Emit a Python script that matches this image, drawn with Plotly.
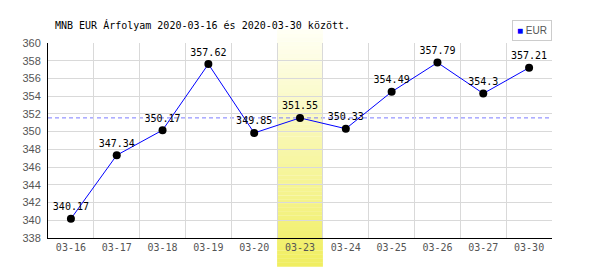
import plotly.graph_objects as go

dates = ["03-16", "03-17", "03-18", "03-19", "03-20", "03-23",
         "03-24", "03-25", "03-26", "03-27", "03-30"]
rates = [340.17, 347.34, 350.17, 357.62, 349.85, 351.55,
         350.33, 354.49, 357.79, 354.3, 357.21]
y_ticks = [338, 340, 342, 344, 346, 348, 350, 352, 354, 356, 358, 360]
highlight_date = "03-23"
series_name = "EUR"
title_text = "MNB EUR Árfolyam 2020-03-16 és 2020-03-30 között."

hi = dates.index(highlight_date)
hi_value = rates[hi]

fig = go.Figure()
fig.add_trace(go.Scatter(
    x=dates, y=rates, mode="lines+markers+text",
    line=dict(color="#0000ff", width=1),
    marker=dict(color="#000000", size=8),
    text=[f"{v:g}" for v in rates],
    textposition="top center",
    textfont=dict(family="DejaVu Sans Mono", size=10, color="#000000"),
    showlegend=False, cliponaxis=False,
))

shapes = []
# gradient highlight band for the selected day
N = 60
top, bottom = 1.068, -0.147
c_top = (255, 255, 245)
c_bot = (240, 238, 96)
for i in range(N):
    t = (i + 0.5) / N
    r = round(c_top[0] + (c_bot[0] - c_top[0]) * t)
    g = round(c_top[1] + (c_bot[1] - c_top[1]) * t)
    b = round(c_top[2] + (c_bot[2] - c_top[2]) * t)
    y0 = top + (bottom - top) * i / N
    y1 = top + (bottom - top) * (i + 1) / N
    shapes.append(dict(type="rect", xref="x", yref="paper",
                       x0=hi - 0.5, x1=hi + 0.5, y0=y1, y1=y0 + 0.001,
                       fillcolor=f"rgb({r},{g},{b})", line=dict(width=0),
                       layer="between"))
# dashed reference line at highlighted value
shapes.append(dict(type="line", xref="paper", yref="y", x0=0, x1=1,
                   y0=hi_value, y1=hi_value,
                   line=dict(color="#7a7aff", width=1, dash="4px,3px"),
                   layer="between"))

fig.update_layout(
    width=600, height=270,
    margin=dict(l=48, r=48, t=43, b=32),
    paper_bgcolor="white", plot_bgcolor="white",
    shapes=shapes,
    xaxis=dict(type="category", range=[-0.5, len(dates) - 0.5],
               tickson="boundaries", showgrid=True, gridcolor="#d9d9d9",
               gridwidth=1, showline=True, linecolor="#000000", linewidth=1,
               ticks="outside", ticklen=4, tickcolor="rgba(0,0,0,0)",
               tickfont=dict(family="DejaVu Sans Mono", size=10, color="#555555"),
               zeroline=False, fixedrange=True),
    yaxis=dict(range=[y_ticks[0], y_ticks[-1]], tickvals=y_ticks,
               showgrid=True, gridcolor="#d9d9d9", gridwidth=1,
               showline=True, linecolor="#000000", linewidth=1,
               ticks="outside", ticklen=4, tickcolor="rgba(0,0,0,0)",
               tickfont=dict(family="Liberation Sans", size=11, color="#555555"),
               zeroline=False, fixedrange=True),
    annotations=[
        dict(text=title_text, xref="paper", yref="paper", x=0.01, y=1.09,
             xanchor="left", yanchor="middle", showarrow=False,
             font=dict(family="DejaVu Sans Mono", size=10, color="#000000")),
        dict(text=f"<span style='color:#0000ff'>■</span> {series_name}",
             xref="paper", yref="paper", x=1.0, y=1.118,
             xanchor="right", yanchor="top", showarrow=False,
             bordercolor="#cccccc", borderwidth=1, borderpad=4,
             bgcolor="white",
             font=dict(family="Liberation Sans", size=10, color="#555555")),
    ],
)

fig.write_html("out.html")
